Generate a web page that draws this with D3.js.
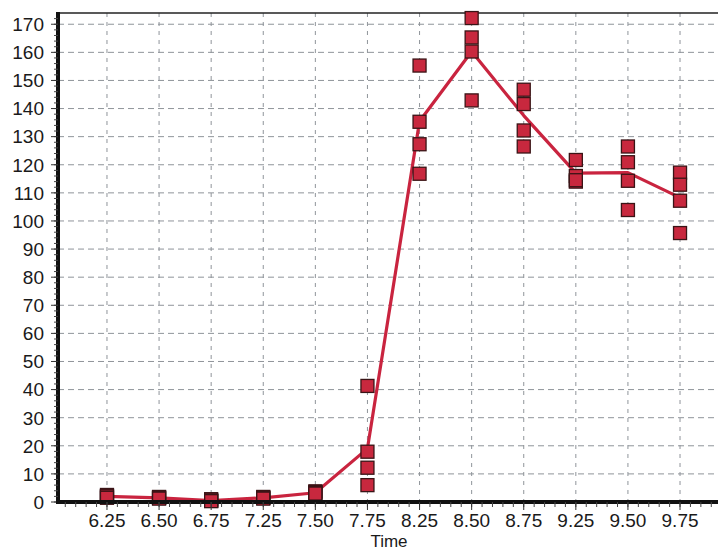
<!DOCTYPE html>
<html>
<head>
<meta charset="utf-8">
<script src="https://cdn.jsdelivr.net/npm/d3@7"></script>
<style>
  html, body { margin: 0; padding: 0; background: #fff; }
  svg { display: block; }
  text { font-family: "Liberation Sans", Arial, sans-serif; fill: #1a1a1a; }
</style>
</head>
<body>
<svg id="chart" width="718" height="551"></svg>
<script>
// Sampling times (hours)
const categories = ["6.25","6.50","6.75","7.25","7.50","7.75","8.25","8.50","8.75","9.25","9.50","9.75"];

// Individual replicate measurements at each time
const replicate1 = [2.5, 1.8, 1.0, 1.8, 3.8, 41.3, 155.3, 172.2, 146.7, 121.7, 126.5, 117.2];
const replicate2 = [2.0, 1.5, 0.5, 1.5, 3.5, 17.9, 135.3, 165.3, 141.6, 116.0, 120.9, 112.9];
const replicate3 = [2.0, 1.5, 0.5, 1.5, 3.2, 12.2, 127.3, 160.3, 132.2, 114.0, 114.3, 107.2];
const replicate4 = [1.5, 1.2, 0.3, 1.2, 3.0, 6.0, 116.8, 142.9, 126.5, 114.5, 103.9, 95.7];

// Mean curve
const meanValues = [2.0, 1.5, 0.5, 1.5, 3.3, 19.0, 135.5, 160.3, 137.5, 117.0, 117.2, 108.3];

const yTicks = d3.range(0, 171, 10);
const xTitle = "Time";

const svg = d3.select("#chart");
const plotLeft = 58, plotRight = 729, plotTop = 13, plotBottom = 502;

const x = d3.scalePoint().domain(categories).range([plotLeft, plotRight]).padding(0.94);
const y = d3.scaleLinear().domain([0, 174]).range([plotBottom, plotTop]);

// Grid
const grid = svg.append("g");
grid.selectAll("line.h").data(yTicks.filter(d => d > 0)).join("line")
  .attr("x1", plotLeft).attr("x2", plotRight)
  .attr("y1", d => y(d)).attr("y2", d => y(d))
  .attr("stroke", "#8f949a").attr("stroke-width", 1)
  .attr("stroke-dasharray", "6,4");
grid.selectAll("line.v").data(categories).join("line")
  .attr("x1", d => x(d)).attr("x2", d => x(d))
  .attr("y1", plotTop).attr("y2", plotBottom)
  .attr("stroke", "#8f949a").attr("stroke-width", 1)
  .attr("stroke-dasharray", "4,5");

// Top border
svg.append("line").attr("x1", plotLeft).attr("x2", plotRight).attr("y1", plotTop).attr("y2", plotTop)
  .attr("stroke", "#222").attr("stroke-width", 1.5);

// Mean line
const lineGen = d3.line().x((d, i) => x(categories[i])).y(d => y(d));
svg.append("path").datum(meanValues)
  .attr("d", lineGen)
  .attr("fill", "none")
  .attr("stroke", "#c9243f")
  .attr("stroke-width", 3.2)
  .attr("stroke-linejoin", "round");

// Replicate markers
const points = [];
[replicate1, replicate2, replicate3, replicate4].forEach(rep => {
  rep.forEach((v, i) => { if (v != null) points.push({ c: categories[i], v }); });
});
const ms = 13;
svg.append("g").selectAll("rect").data(points).join("rect")
  .attr("x", d => x(d.c) - ms / 2)
  .attr("y", d => y(d.v) - ms / 2)
  .attr("width", ms).attr("height", ms)
  .attr("fill", "#c8283e")
  .attr("stroke", "#3a1416")
  .attr("stroke-width", 1.3);

// Y axis
const yAxis = svg.append("g");
yAxis.append("line").attr("x1", plotLeft).attr("x2", plotLeft).attr("y1", plotTop - 1).attr("y2", plotBottom + 2)
  .attr("stroke", "#111").attr("stroke-width", 4);
yAxis.selectAll("line.minor").data(d3.range(0, 174, 2)).join("line")
  .attr("x1", plotLeft - 4).attr("x2", plotLeft)
  .attr("y1", d => y(d)).attr("y2", d => y(d))
  .attr("stroke", "#444").attr("stroke-width", 1);
yAxis.selectAll("line.major").data(yTicks).join("line")
  .attr("x1", plotLeft - 7).attr("x2", plotLeft)
  .attr("y1", d => y(d)).attr("y2", d => y(d))
  .attr("stroke", "#333").attr("stroke-width", 1);
yAxis.selectAll("text").data(yTicks).join("text")
  .attr("x", 44).attr("y", d => y(d))
  .attr("dy", "0.36em")
  .attr("text-anchor", "end")
  .attr("font-size", 19)
  .text(d => d);

// X axis
const xAxis = svg.append("g");
xAxis.append("line").attr("x1", plotLeft - 2).attr("x2", plotRight).attr("y1", plotBottom).attr("y2", plotBottom)
  .attr("stroke", "#111").attr("stroke-width", 4);
const step = x.step();
const minorX = [];
for (let k = -4; k <= (categories.length - 1) * 5 + 4; k++) {
  const px = x(categories[0]) + k * step / 5;
  if (px > plotLeft + 2 && px < plotRight) minorX.push(px);
}
xAxis.selectAll("line.minor").data(minorX).join("line")
  .attr("x1", d => d).attr("x2", d => d)
  .attr("y1", plotBottom).attr("y2", plotBottom + 5)
  .attr("stroke", "#444").attr("stroke-width", 1);
xAxis.selectAll("line.major").data(categories).join("line")
  .attr("x1", d => x(d)).attr("x2", d => x(d))
  .attr("y1", plotBottom).attr("y2", plotBottom + 8)
  .attr("stroke", "#333").attr("stroke-width", 1);
xAxis.selectAll("text").data(categories).join("text")
  .attr("x", d => x(d)).attr("y", 527)
  .attr("text-anchor", "middle")
  .attr("font-size", 19)
  .text(d => d);

svg.append("text").attr("x", 389).attr("y", 546.5)
  .attr("text-anchor", "middle").attr("font-size", 17)
  .text(xTitle);
</script>
</body>
</html>
